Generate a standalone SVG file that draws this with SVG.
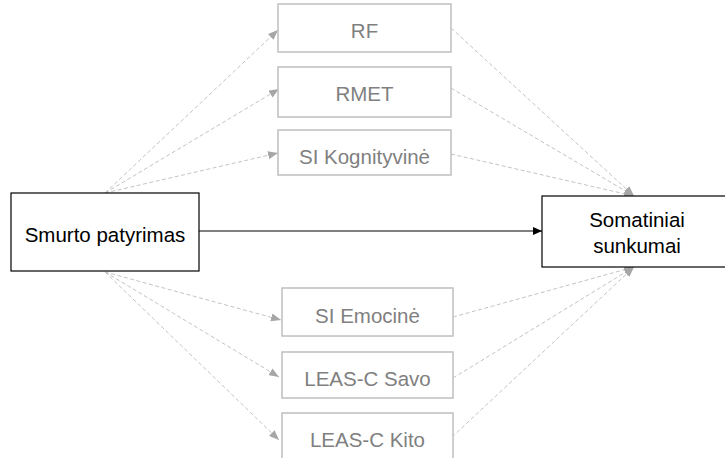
<svg xmlns="http://www.w3.org/2000/svg" width="725" height="458" viewBox="0 0 725 458">
<defs>
<style>
.main{fill:#fff;stroke:#000;stroke-width:1.2}
.med{fill:#fff;stroke:#bfbfbf;stroke-width:1.5}
.t{font-family:"Liberation Sans",Arial,sans-serif;font-size:20.5px;text-anchor:middle}
.tb{fill:#000}
.tg{fill:#808080}
.dash{stroke:#c4c4c4;stroke-width:1;stroke-dasharray:4 2.5;fill:none}
.solid{stroke:#000;stroke-width:1.2;fill:none}
</style>
<marker id="ag" markerWidth="10" markerHeight="8" refX="10" refY="4" orient="auto" markerUnits="userSpaceOnUse">
<path d="M0,0 L10,4 L0,8 Z" fill="#a6a6a6"/>
</marker>
<marker id="ab" markerWidth="9" markerHeight="8" refX="9" refY="4" orient="auto" markerUnits="userSpaceOnUse">
<path d="M0,0 L9,4 L0,8 Z" fill="#000"/>
</marker>
</defs>
<rect width="725" height="458" fill="#fff"/>
<g id="connectors">
<line class="dash" x1="105" y1="193" x2="278" y2="30" marker-end="url(#ag)"/>
<line class="dash" x1="105" y1="193" x2="279" y2="89" marker-end="url(#ag)"/>
<line class="dash" x1="105" y1="193" x2="278" y2="153" marker-end="url(#ag)"/>
<line class="dash" x1="105" y1="272" x2="281" y2="320" marker-end="url(#ag)"/>
<line class="dash" x1="105" y1="272" x2="279" y2="377" marker-end="url(#ag)"/>
<line class="dash" x1="105" y1="272" x2="279" y2="440" marker-end="url(#ag)"/>
<line class="dash" x1="451" y1="28" x2="634" y2="196" marker-end="url(#ag)"/>
<line class="dash" x1="451" y1="88" x2="634" y2="196" marker-end="url(#ag)"/>
<line class="dash" x1="451" y1="154" x2="634" y2="196" marker-end="url(#ag)"/>
<line class="dash" x1="453" y1="317" x2="634" y2="267" marker-end="url(#ag)"/>
<line class="dash" x1="453" y1="378" x2="634" y2="267" marker-end="url(#ag)"/>
<line class="dash" x1="452" y1="437" x2="634" y2="267" marker-end="url(#ag)"/>
<line class="solid" x1="199" y1="231" x2="542" y2="231" marker-end="url(#ab)"/>
</g>
<g id="smurto">
<rect class="main" x="11" y="193" width="188" height="78"/>
<text class="t tb" x="105" y="242">Smurto patyrimas</text>
</g>
<g id="somatiniai">
<rect class="main" x="542" y="196" width="190" height="71"/>
<text class="t tb" x="637" y="227">Somatiniai</text>
<text class="t tb" x="637" y="253">sunkumai</text>
</g>
<g id="rf">
<rect class="med" x="278" y="4" width="173" height="48"/>
<text class="t tg" x="364.5" y="38">RF</text>
</g>
<g id="rmet">
<rect class="med" x="278" y="67" width="173" height="50"/>
<text class="t tg" x="364.5" y="101">RMET</text>
</g>
<g id="si-kog">
<rect class="med" x="278" y="130" width="173" height="45"/>
<text class="t tg" x="364.5" y="164">SI Kognityvinė</text>
</g>
<g id="si-emo">
<rect class="med" x="282" y="288" width="171" height="48"/>
<text class="t tg" x="367.5" y="323">SI Emocinė</text>
</g>
<g id="leas-savo">
<rect class="med" x="282" y="352" width="171" height="46"/>
<text class="t tg" x="367.5" y="386">LEAS-C Savo</text>
</g>
<g id="leas-kito">
<rect class="med" x="282" y="413" width="171" height="60"/>
<text class="t tg" x="367.5" y="447">LEAS-C Kito</text>
</g>
</svg>
